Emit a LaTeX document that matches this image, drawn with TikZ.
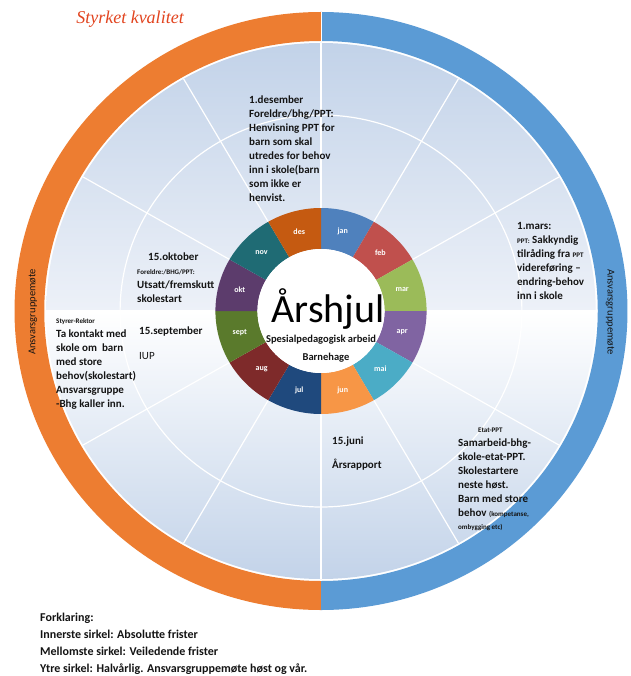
\documentclass[tikz,border=0pt]{standalone}
\usepackage{fontspec}
\setmainfont{Carlito}
\newfontfamily\headingfont{Liberation Serif}
\definecolor{ringorange}{HTML}{ED7D31}
\definecolor{ringblue}{HTML}{5B9BD5}
\definecolor{diskblue}{HTML}{C0D1E8}
\definecolor{diskpale}{HTML}{EDF1F8}
\definecolor{inktext}{HTML}{141414}
\definecolor{titlered}{HTML}{E2441F}
\definecolor{mjan}{HTML}{4F81BD}
\definecolor{mfeb}{HTML}{C0504D}
\definecolor{mmar}{HTML}{9BBB59}
\definecolor{mapr}{HTML}{8064A2}
\definecolor{mmai}{HTML}{4BACC6}
\definecolor{mjun}{HTML}{F79646}
\definecolor{mjul}{HTML}{1F497D}
\definecolor{maug}{HTML}{7E2A2A}
\definecolor{msept}{HTML}{5A7A2C}
\definecolor{mokt}{HTML}{5C3C6C}
\definecolor{mnov}{HTML}{1F6B74}
\definecolor{mdes}{HTML}{C55A11}
\tikzset{
  spoke/.style={white, line width=1.2pt},
  note/.style={font=\bfseries\fontsize{11}{14}\selectfont, align=left, anchor=north west, inner sep=0pt, text=inktext},
  monthlbl/.style={font=\bfseries\fontsize{8}{9}\selectfont, text=white, inner sep=0pt},
  sidelbl/.style={font=\fontsize{10.5}{12}\selectfont, text=inktext, inner sep=0pt},
}
\newcommand{\tinytxt}[1]{{\fontsize{7}{8}\selectfont #1}}
\begin{document}
\begin{tikzpicture}[x=1pt, y=-1pt]
\useasboundingbox (0,0) rectangle (630,676);
\fill[white] (0,0) rectangle (630,676);
\begin{scope}[shift={(321,311)}, yscale=-1, xscale=1.025]
% outer ring, two halves
\fill[ringorange] (90:299) arc[start angle=90, end angle=270, radius=299] -- (270:270) arc[start angle=270, end angle=90, radius=270] -- cycle;
\fill[ringblue] (90:299) arc[start angle=90, end angle=-90, radius=299] -- (-90:270) arc[start angle=-90, end angle=90, radius=270] -- cycle;
\draw[white, line width=0.8pt] (90:270) -- (90:299);
% light disk
\begin{scope}
\clip (0,0) circle (268);
\shade[top color=diskblue, bottom color=diskpale] (-280,0) rectangle (280,280);
\shade[top color=white, bottom color=diskblue] (-280,-280) rectangle (280,0);
\end{scope}
\foreach \a in {0,30,...,330}
  \draw[spoke] (\a:103) -- (\a:268);
\draw[spoke] (0,0) circle (196);
% month ring
\foreach \m/\c [count=\i from 0] in {jan/mjan, feb/mfeb, mar/mmar, apr/mapr, mai/mmai, jun/mjun, jul/mjul, aug/maug, sept/msept, okt/mokt, nov/mnov, des/mdes} {
  \pgfmathsetmacro\a{90-30*\i}
  \fill[\c] (\a:103) arc[start angle=\a, end angle=\a-30, radius=103] -- (\a-30:62) arc[start angle=\a-30, end angle=\a, radius=62] -- cycle;
  \node[monthlbl] (m\m) at (\a-15:82) {\m};
}
\fill[white] (0,0) circle (62);
\end{scope}

% centre
\node[font=\fontsize{40}{40}\selectfont, inner sep=0pt, anchor=base, text=black] (hjul) at (328,322) {Årshjul};
\node[font=\bfseries\fontsize{10.5}{12}\selectfont, inner sep=0pt, text=inktext] (spes) at (321,340) {Spesialpedagogisk arbeid};
\node[font=\bfseries\fontsize{10.5}{12}\selectfont, inner sep=0pt, text=inktext] (bhg) at (326,358) {Barnehage};

% deadlines
\node[note] (des) at (249,95.5) {1.desember\\ Foreldre/bhg/PPT:\\ Henvisning PPT for\\ barn som skal\\ utredes for behov\\ inn i skole(barn\\ som ikke er\\ henvist.};
\node[note] (mars) at (517,222.5) {1.mars:\\ \tinytxt{PPT:} Sakkyndig\\ tilråding fra \tinytxt{PPT}\\ videreføring –\\ endring-behov\\ inn i skole};
\node[note] (okt) at (137,253) {\hspace*{11pt}15.oktober\\ \tinytxt{Foreldre:/BHG/PPT:}\\ Utsatt/fremskutt\\ skolestart};
\node[note] (styrer) at (56,318) {\tinytxt{Styrer-Rektor}\\ Ta kontakt med\\ skole om\ \ barn\\ med store\\ behov(skolestart)\\ Ansvarsgruppe\\ -Bhg kaller inn.};
\node[note] (sept) at (139,327) {15.september\\[11pt] \mdseries IUP};
\node[note] (juni) at (332,437) {15.juni\\[10pt] Årsrapport};
\node[note] (etat) at (458,428) {\hspace*{20pt}\tinytxt{Etat-PPT}\\ Samarbeid-bhg-\\ skole-etat-PPT.\\ Skolestartere\\ neste høst.\\ Barn med store\\ behov \tinytxt{(kompetanse,}\\[-1pt] \tinytxt{ombygging etc)}};

% outer ring labels
\node[sidelbl, rotate=90] (venstre) at (33,312) {Ansvarsgruppemøte};
\node[sidelbl, rotate=-90] (hoyre) at (610,312) {Ansvarsgruppemøte};

% heading and legend
\node[font=\headingfont\itshape\fontsize{18}{18}\selectfont, text=titlered, inner sep=0pt] (styrket) at (130,19) {Styrket kvalitet};
\node[font=\bfseries\fontsize{12}{17}\selectfont, align=left, anchor=north west, inner sep=0pt, text=inktext] (forklaring) at (40,613) {Forklaring:\\ Innerste sirkel: Absolutte frister\\ Mellomste sirkel: Veiledende frister\\ Ytre sirkel: Halvårlig. Ansvarsgruppemøte høst og vår.};
\end{tikzpicture}
\end{document}
